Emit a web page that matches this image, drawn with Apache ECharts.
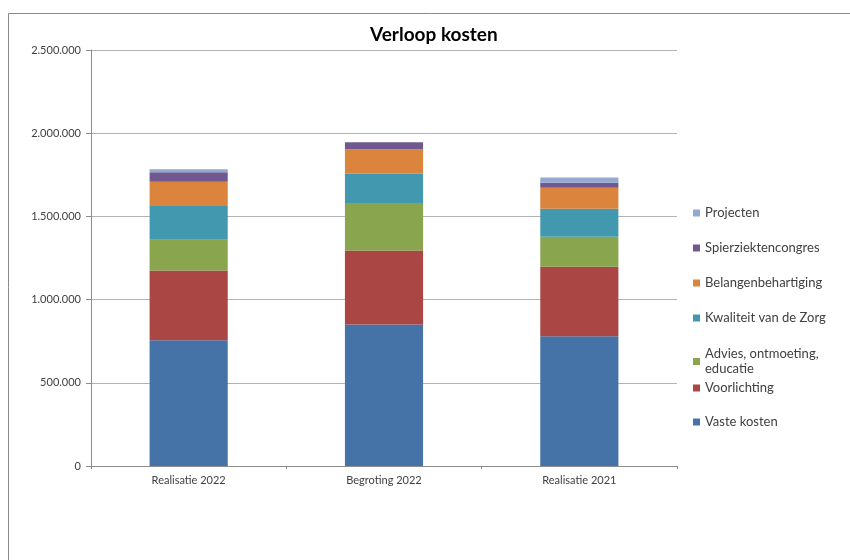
<!DOCTYPE html>
<html>
<head>
<meta charset="utf-8">
<script src="https://cdn.jsdelivr.net/npm/echarts@6/dist/echarts.min.js"></script>
<style>html,body{margin:0;padding:0;background:#fff}#c{width:850px;height:560px}</style>
</head>
<body>
<div id="c"></div>
<script>
const categories = ['Realisatie 2022', 'Begroting 2022', 'Realisatie 2021'];
const seriesNames = ['Vaste kosten', 'Voorlichting', 'Advies, ontmoeting, educatie', 'Kwaliteit van de Zorg', 'Belangenbehartiging', 'Spierziektencongres', 'Projecten'];
const vasteKosten = [755000, 850000, 780000];
const voorlichting = [420000, 445000, 418000];
const advies = [185000, 285000, 180000];
const kwaliteit = [202000, 176000, 168000];
const belangen = [146000, 148000, 126000];
const congres = [58000, 42000, 30000];
const projecten = [18000, 0, 32000];
const yTicks = [0, 500000, 1000000, 1500000, 2000000, 2500000];

const seriesData = [vasteKosten, voorlichting, advies, kwaliteit, belangen, congres, projecten];
const colors = ['#4572A7', '#AA4643', '#89A54E', '#4198AF', '#DB843D', '#71588F', '#93A9CF'];
const FONT = 'Lato';

const fmt = v => String(v).replace(/\B(?=(\d{3})+(?!\d))/g, '.');

// legend rows (center y of each legend icon), top-down order: Projecten ... Vaste kosten
const legendY = [213, 248, 283, 318, 354, 388, 422];
const legendOrder = seriesNames.slice().reverse();
const legends = legendOrder.map((name, i) => {
  const multi = name === 'Advies, ontmoeting, educatie';
  return {
    orient: 'vertical',
    left: 693,
    top: multi ? legendY[i] - 7.5 - 7.5 : legendY[i] - 7.5,
    padding: 0,
    itemWidth: 7,
    itemHeight: 7,
    icon: 'rect',
    selectedMode: false,
    data: [name],
    formatter: n => multi ? 'Advies, ontmoeting,\neducatie' : n,
    textStyle: {
      fontFamily: FONT, fontSize: 13, color: '#404040', lineHeight: 15,
      padding: multi ? [15, 0, 0, 0] : 0
    },
    itemGap: 0
  };
});

const chart = echarts.init(document.getElementById('c'), null, {renderer: 'canvas'});
chart.setOption({
  animation: false,
  color: colors,
  title: {
    text: 'Verloop kosten',
    left: 370, top: 25, padding: 0,
    textStyle: {fontFamily: FONT, fontSize: 19, fontWeight: 'bold', color: '#000'}
  },
  legend: legends,
  grid: {left: 91, right: 850 - 677, top: 50, bottom: 560 - 466, containLabel: false},
  xAxis: {
    type: 'category',
    data: categories,
    boundaryGap: true,
    axisLine: {lineStyle: {color: '#8c8c8c', width: 1}},
    axisTick: {show: true, length: 3, lineStyle: {color: '#8c8c8c'}},
    axisLabel: {fontFamily: FONT, fontSize: 11, color: '#404040', margin: 9}
  },
  yAxis: {
    type: 'value',
    min: yTicks[0], max: yTicks[yTicks.length - 1], interval: yTicks[1] - yTicks[0],
    axisLine: {show: true, lineStyle: {color: '#8c8c8c', width: 1}},
    axisTick: {show: true, length: 5, lineStyle: {color: '#8c8c8c'}},
    splitLine: {lineStyle: {color: '#b3b3b3', width: 1}},
    axisLabel: {fontFamily: FONT, fontSize: 11, color: '#404040', margin: 10, formatter: fmt}
  },
  graphic: [{
    type: 'rect', silent: true,
    shape: {x: 8.5, y: 13.5, width: 900, height: 700},
    style: {fill: 'none', stroke: '#8a8a8a', lineWidth: 1}
  }],
  series: seriesNames.map((name, i) => ({
    name, type: 'bar', stack: 'total', barWidth: '40%',
    data: seriesData[i],
    itemStyle: {color: colors[i]}
  }))
});
</script>
</body>
</html>
